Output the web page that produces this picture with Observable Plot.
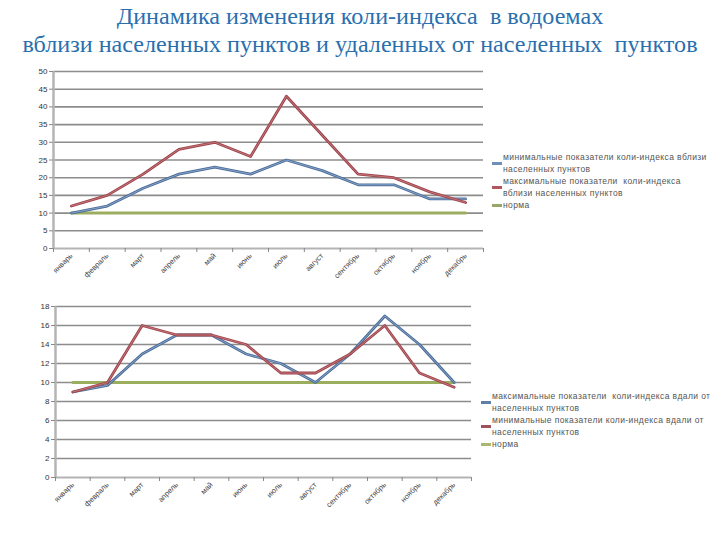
<!DOCTYPE html>
<html>
<head>
<meta charset="utf-8">
<script src="https://cdn.jsdelivr.net/npm/d3@7"></script>
<script src="https://cdn.jsdelivr.net/npm/@observablehq/plot@0.6"></script>
<style>
  html, body { margin: 0; padding: 0; background: #fff; }
  #page { position: relative; width: 720px; height: 540px; overflow: hidden; }
  .title { position: absolute; left: 0; width: 720px; text-align: center;
           font-family: "Liberation Serif", "DejaVu Serif", serif; font-size: 23px; color: #2a6fae; white-space: pre;
           transform: scaleX(1.05); transform-origin: 360px 0; }
  .chart { position: absolute; left: 0; }
  .legend { position: absolute; font-family: "Liberation Sans", Arial, sans-serif; font-size: 8.5px;
            color: #555; letter-spacing: 0.4px; line-height: 12px; white-space: pre; }
  .item { position: relative; padding-left: 11px; }
  .sw { position: absolute; left: 0; width: 10px; height: 3px; }
</style>
</head>
<body>
<div id="page">
  <div class="title" style="top:4px">Динамика изменения коли-индекса  в водоемах</div>
  <div class="title" style="top:32px">вблизи населенных пунктов и удаленных от населенных  пунктов</div>
  <div id="top" class="chart" style="top:60px"></div>
  <div id="bottom" class="chart" style="top:295px"></div>
  <div id="legTop" class="legend" style="left:492px; top:151px"></div>
  <div id="legBottom" class="legend" style="left:481px; top:390px"></div>
</div>
<script>
const months = ["январь","февраль","март","апрель","май","июнь","июль","август","сентябрь","октябрь","ноябрь","декабрь"];

// Chart 1: near settlements
const minNear = [10, 12, 17, 21, 23, 21, 25, 22, 18, 18, 14, 14];
const maxNear = [12, 15, 21, 28, 30, 26, 43, 32, 21, 20, 16, 13];
const normNear = [10, 10, 10, 10, 10, 10, 10, 10, 10, 10, 10, 10];
const yTicksTop = [0, 5, 10, 15, 20, 25, 30, 35, 40, 45, 50];

// Chart 2: far from settlements
const maxFar = [9, 9.7, 13, 15, 15, 13, 12, 10, 13, 17, 14, 10];
const minFar = [9, 10, 16, 15, 15, 14, 11, 11, 13, 16, 11, 9.5];
const normFar = [10, 10, 10, 10, 10, 10, 10, 10, 10, 10, 10, 10];
const yTicksBottom = [0, 2, 4, 6, 8, 10, 12, 14, 16, 18];

const legendTop = [
  {label: "минимальные показатели коли-индекса вблизи\nнаселенных пунктов", color: "#6f8fb8"},
  {label: "максимальные показатели  коли-индекса\nвблизи населенных пунктов", color: "#b0565c"},
  {label: "норма", color: "#9aa56a"}
];
const legendBottom = [
  {label: "максимальные показатели  коли-индекса вдали от\nнаселенных пунктов", color: "#5f7fa6"},
  {label: "минимальные показатели коли-индекса вдали от\nнаселенных пунктов", color: "#a0525a"},
  {label: "норма", color: "#a8b872"}
];

const idx = d3.range(12);
const fontFam = "'Liberation Sans', Arial, sans-serif";

function seriesMarks(values, dark, light, w) {
  return [
    Plot.line(idx, {x: i => i, y: i => values[i], stroke: dark, strokeWidth: w}),
    Plot.line(idx, {x: i => i, y: i => values[i], stroke: light, strokeWidth: 0.8})
  ];
}

function makeChart(opts) {
  const {yMax, yTicks, series, norm, marginLeft, marginRight, marginTop, marginBottom, height} = opts;
  return Plot.plot({
    width: 490,
    height,
    marginLeft, marginRight, marginTop, marginBottom,
    style: {fontFamily: fontFam, fontSize: "8px", background: "transparent"},
    x: {type: "linear", domain: [-0.5, 11.5], axis: null},
    y: {domain: [0, yMax], axis: null},
    marks: [
      Plot.ruleY(yTicks.filter(t => t > 0), {y: d => d, stroke: "#8c8c8c", strokeWidth: 1.6}),
      Plot.ruleX([-0.5], {stroke: "#b4b4b4", strokeWidth: 2.5}),
      Plot.ruleY([0], {stroke: "#b4b4b4", strokeWidth: 2}),
      Plot.axisY({ticks: yTicks, tickSize: 4, tickPadding: 2, stroke: "#888", fill: "#333", fontSize: 8, label: null}),
      Plot.axisX({ticks: d3.range(13).map(i => i - 0.5), tickFormat: () => "", tickSize: 4, stroke: "#888", label: null}),
      Plot.axisX({ticks: idx, tickFormat: i => months[i], tickSize: 0, tickPadding: 6, tickRotate: -45, fill: "#444", fontSize: 7.5, label: null}),
      Plot.line(idx, {x: i => i, y: i => norm[i], stroke: "#9bae5e", strokeWidth: 3}),
      ...series.flatMap(s => seriesMarks(s.values, s.dark, s.light, 2.8))
    ]
  });
}

document.getElementById("top").append(makeChart({
  yMax: 50, yTicks: yTicksTop, norm: normNear,
  series: [
    {values: minNear, dark: "#4d6d96", light: "#8fb0d8"},
    {values: maxNear, dark: "#9c454c", light: "#cf7f84"}
  ],
  marginLeft: 53, marginRight: 7, marginTop: 11, marginBottom: 52, height: 240
}));

document.getElementById("bottom").append(makeChart({
  yMax: 18, yTicks: yTicksBottom, norm: normFar,
  series: [
    {values: maxFar, dark: "#4d6d96", light: "#8fb0d8"},
    {values: minFar, dark: "#9c454c", light: "#cf7f84"}
  ],
  marginLeft: 55, marginRight: 19, marginTop: 11, marginBottom: 58, height: 240
}));

function fillLegend(id, items) {
  const el = document.getElementById(id);
  items.forEach(it => {
    const d = document.createElement("div");
    d.className = "item";
    const lines = it.label.split("\n").length;
    const sw = document.createElement("span");
    sw.className = "sw";
    sw.style.background = it.color;
    sw.style.top = (lines * 6 - 1.5) + "px";
    d.append(sw, document.createTextNode(it.label));
    el.append(d);
  });
}
fillLegend("legTop", legendTop);
fillLegend("legBottom", legendBottom);
</script>
</body>
</html>
